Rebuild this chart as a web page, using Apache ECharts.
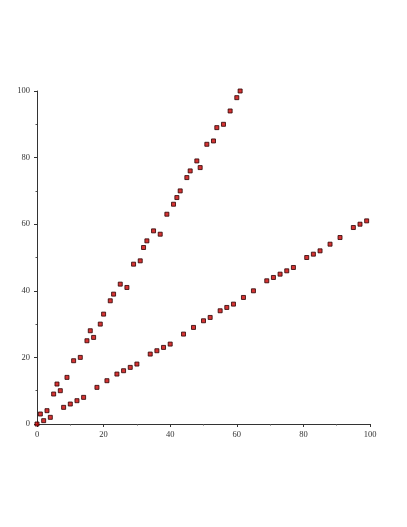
<!DOCTYPE html>
<html>
<head>
<meta charset="utf-8">
<script src="https://cdn.jsdelivr.net/npm/echarts@6/dist/echarts.min.js"></script>
<style>
  html, body { margin: 0; padding: 0; background: #fff; }
</style>
</head>
<body>
<div id="chart" style="width: 407px;height:527px;"></div>
<script>
// steep branch (points above the diagonal)
const upperX = [1, 3, 5, 6, 7, 9, 11, 13, 15, 16, 17, 19, 20, 22, 23, 25, 27, 29, 31, 32, 33, 35, 37, 39, 41, 42, 43, 45, 46, 48, 49, 51, 53, 54, 56, 58, 60, 61]
const upperY = [3, 4, 9, 12, 10, 14, 19, 20, 25, 28, 26, 30, 33, 37, 39, 42, 41, 48, 49, 53, 55, 58, 57, 63, 66, 68, 70, 74, 76, 79, 77, 84, 85, 89, 90, 94, 98, 100]

// shallow branch (points below the diagonal)
const lowerX = [0, 2, 4, 8, 10, 12, 14, 18, 21, 24, 26, 28, 30, 34, 36, 38, 40, 44, 47, 50, 52, 55, 57, 59, 62, 65, 69, 71, 73, 75, 77, 81, 83, 85, 88, 91, 95, 97, 99]
const lowerY = [0, 1, 2, 5, 6, 7, 8, 11, 13, 15, 16, 17, 18, 21, 22, 23, 24, 27, 29, 31, 32, 34, 35, 36, 38, 40, 43, 44, 45, 46, 47, 50, 51, 52, 54, 56, 59, 60, 61]

const tickValues = [0, 20, 40, 60, 80, 100]

const pairs = (xs, ys) => xs.map((x, i) => [x, ys[i]])

const chart = echarts.init(document.getElementById('chart'))

// axis style shared by both axes
const axisBase = {
  type: 'value',
  min: tickValues[0],
  max: tickValues[tickValues.length - 1],
  interval: tickValues[1] - tickValues[0],
  splitLine: { show: false },
  axisLine: { show: true, onZero: false, lineStyle: { color: '#333', width: 1 } },
  axisTick: { show: true, inside: false, length: 3, lineStyle: { color: '#333' } },
  minorTick: { show: true, splitNumber: 2, length: 1.5, lineStyle: { color: '#555' } },
  axisLabel: {
    color: '#333',
    fontFamily: 'Liberation Serif',
    fontSize: 8.5
  }
}

const markStyle = {
  color: '#cc0000',
  borderColor: '#2a0000',
  borderWidth: 1
}

const option = {
  animation: false,
  grid: {
    left: 37,
    right: 37,
    top: 91,
    bottom: 103,
    containLabel: false
  },
  xAxis: Object.assign({}, axisBase, {
    axisLabel: Object.assign({}, axisBase.axisLabel, { margin: 6 })
  }),
  yAxis: Object.assign({}, axisBase, {
    axisLabel: Object.assign({}, axisBase.axisLabel, { margin: 7 })
  }),
  series: [
    {
      name: 'upper',
      type: 'scatter',
      symbol: 'rect',
      symbolSize: 4,
      clip: true,
      itemStyle: markStyle,
      data: pairs(upperX, upperY)
    },
    {
      name: 'lower',
      type: 'scatter',
      symbol: 'rect',
      symbolSize: 4,
      clip: true,
      itemStyle: markStyle,
      data: pairs(lowerX, lowerY)
    }
  ]
}

chart.setOption(option)
</script>
</body>
</html>
